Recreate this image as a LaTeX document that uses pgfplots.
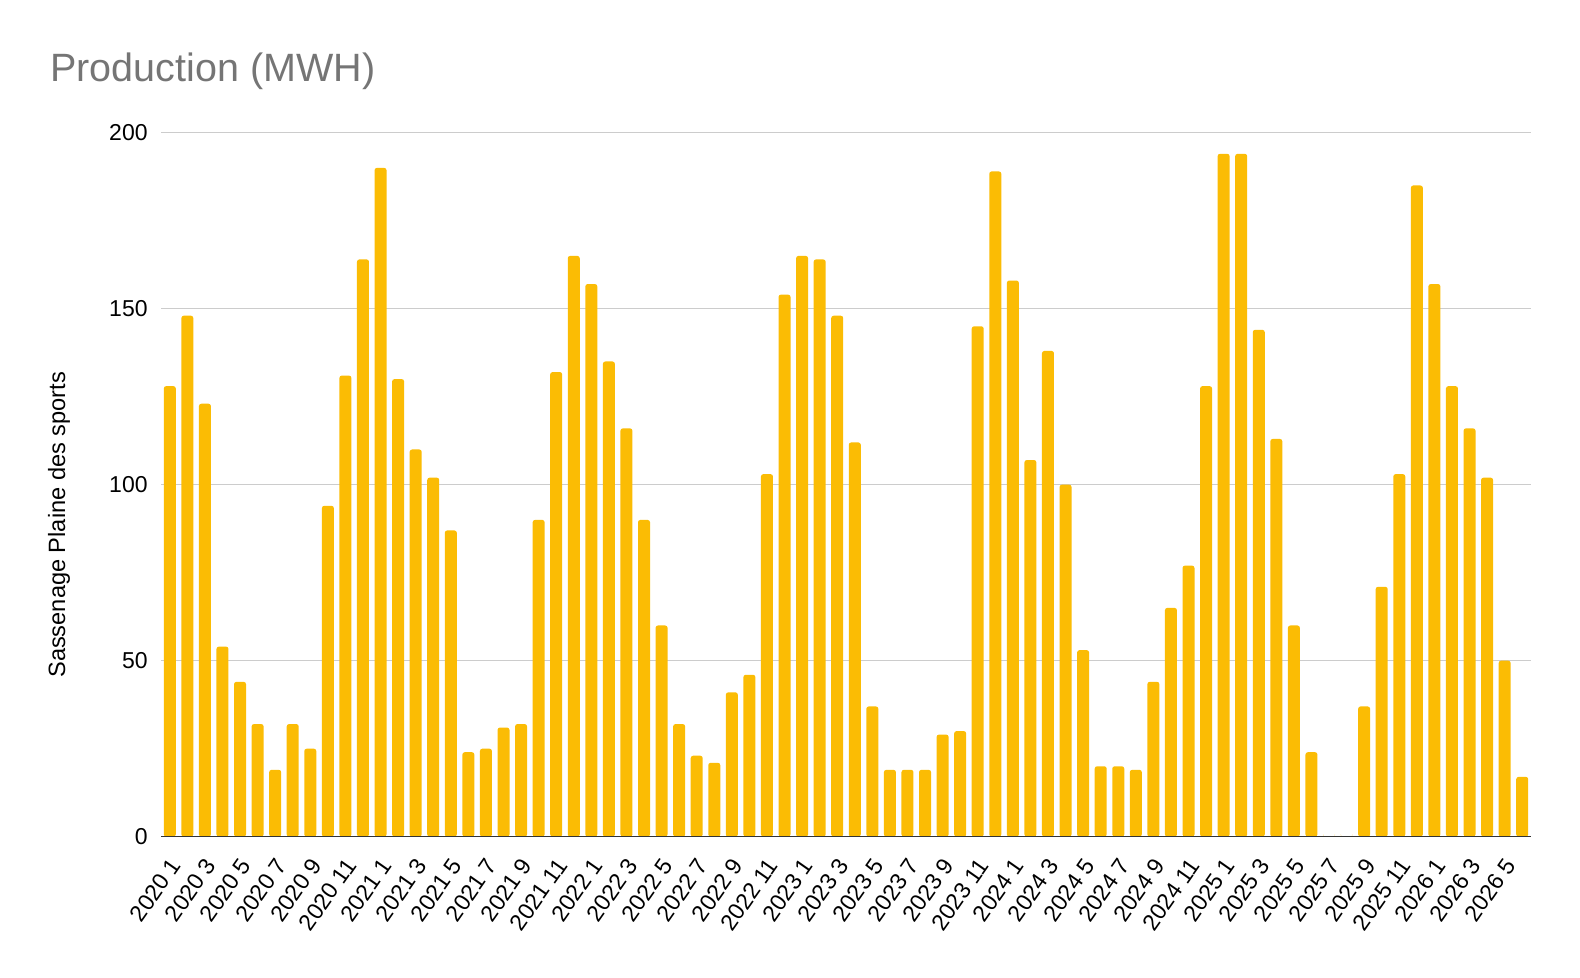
\documentclass[border=0pt]{standalone}
\usepackage{fontspec}
\setmainfont{Liberation Sans}
\usepackage{pgfplots}
\pgfplotsset{compat=1.18}
\definecolor{baryellow}{RGB}{251,188,4}
\definecolor{gridgray}{RGB}{204,204,204}
\definecolor{titlegray}{RGB}{117,117,117}
\definecolor{axisdark}{RGB}{51,51,51}
\begin{document}
\begin{tikzpicture}
\useasboundingbox (0,0) rectangle (790pt,489pt);
\node[anchor=base west, font=\fontsize{19.75}{23}\selectfont, text=titlegray, inner sep=0pt] at (25pt,448pt) {Production (MWH)};
\begin{axis}[
  at={(80.5pt,70.65pt)}, anchor=south west,
  scale only axis, width=685pt, height=352pt,
  xmin=-0.5, xmax=77.5, ymin=0, ymax=200,
  ytick={0,50,100,150,200},
  xtick={0,2,...,76},
  xticklabels={2020 1,2020 3,2020 5,2020 7,2020 9,2020 11,2021 1,2021 3,2021 5,2021 7,2021 9,2021 11,2022 1,2022 3,2022 5,2022 7,2022 9,2022 11,2023 1,2023 3,2023 5,2023 7,2023 9,2023 11,2024 1,2024 3,2024 5,2024 7,2024 9,2024 11,2025 1,2025 3,2025 5,2025 7,2025 9,2025 11,2026 1,2026 3,2026 5},
  ymajorgrids, major grid style={gridgray, line width=0.7pt},
  axis line style={draw=none},
  major tick length=0pt,
  tick label style={font=\fontsize{11.5}{13}\selectfont, text=black},
  /pgf/number format/assume math mode=true,
  yticklabel style={inner sep=0pt, xshift=-6.5pt},
  xticklabel style={inner sep=0pt, xshift=3pt, yshift=-12pt, rotate=55, anchor=east},
  every axis y label/.style={at={(rel axis cs:-0.0745,0.443)}, rotate=90, anchor=center, font=\fontsize{11.8}{13}\selectfont},
  ylabel={Sassenage Plaine des sports},
]
\addplot[ybar, bar width=6pt, fill=baryellow, draw=none, rounded corners=1.2pt] coordinates {
(0,128) (1,148) (2,123) (3,54) (4,44) (5,32) (6,19) (7,32) (8,25) (9,94)
(10,131) (11,164) (12,190) (13,130) (14,110) (15,102) (16,87) (17,24) (18,25) (19,31)
(20,32) (21,90) (22,132) (23,165) (24,157) (25,135) (26,116) (27,90) (28,60) (29,32)
(30,23) (31,21) (32,41) (33,46) (34,103) (35,154) (36,165) (37,164) (38,148) (39,112)
(40,37) (41,19) (42,19) (43,19) (44,29) (45,30) (46,145) (47,189) (48,158) (49,107)
(50,138) (51,100) (52,53) (53,20) (54,20) (55,19) (56,44) (57,65) (58,77) (59,128)
(60,194) (61,194) (62,144) (63,113) (64,60) (65,24) (66,0) (67,0) (68,37) (69,71)
(70,103) (71,185) (72,157) (73,128) (74,116) (75,102) (76,50) (77,17)
};
\draw[axisdark, line width=0.9pt] (rel axis cs:0,0) -- (rel axis cs:1,0);
\end{axis}
\end{tikzpicture}
\end{document}
